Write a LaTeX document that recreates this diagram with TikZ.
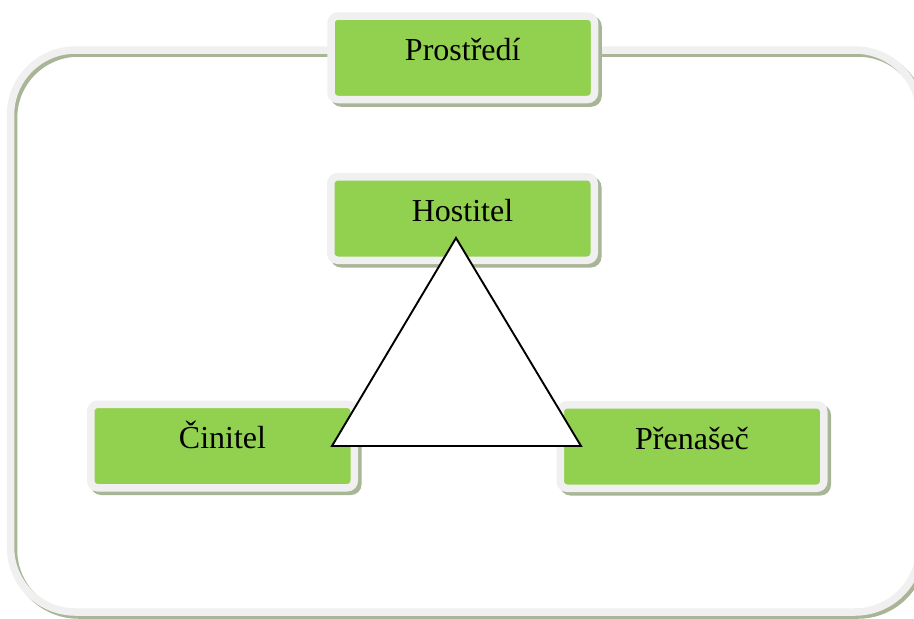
\documentclass[tikz,border=0pt]{standalone}
\usepackage{fontspec}
\setmainfont{Liberation Serif}
\definecolor{tilegreen}{HTML}{92D050}
\definecolor{rimgray}{HTML}{F0F0F0}
\definecolor{shadegreen}{HTML}{A9B597}
\tikzset{
  tile/.style={
    draw=rimgray, line width=7.5pt, fill=tilegreen,
    rounded corners=7pt, inner sep=0pt,
    minimum width=263.5pt, minimum height=83.5pt,
    text height=22pt, text depth=17pt,
    font=\fontsize{32}{38}\selectfont,
    preaction={draw=shadegreen, fill=shadegreen,
      transform canvas={shift={(3.5pt,-3.5pt)}}}
  },
  frameline/.style={line width=7.5pt, rounded corners=65pt},
  trianglebox/.style={draw=black, fill=white, line width=1.9pt, line join=miter}
}
\begin{document}
\begin{tikzpicture}[x=1pt,y=-1pt]
  \useasboundingbox (0,0) rectangle (914,619);
  \clip (0,0) rectangle (914,619);

  % surrounding frame with its offset shade
  \draw[frameline, draw=shadegreen] (13.5,53) rectangle (923,615);
  \draw[frameline, draw=rimgray] (10.5,50) rectangle (920,612);

  % tiles
  \node[tile] (env)  at (462.75,57.75) {Prostředí};
  \node[tile] (host) at (462.5,218.5)  {Hostitel};
  \node[tile] (agent) at (222.5,446)   {Činitel};
  \node[tile] (vector) at (692,446.5)  {Přenašeč};

  % triangle joining the three tiles
  \coordinate (apex) at (456,238);
  \coordinate (left) at (332,446);
  \coordinate (right) at (581,446);
  \draw[trianglebox] (apex) -- (left) -- (right) -- cycle;
\end{tikzpicture}
\end{document}
